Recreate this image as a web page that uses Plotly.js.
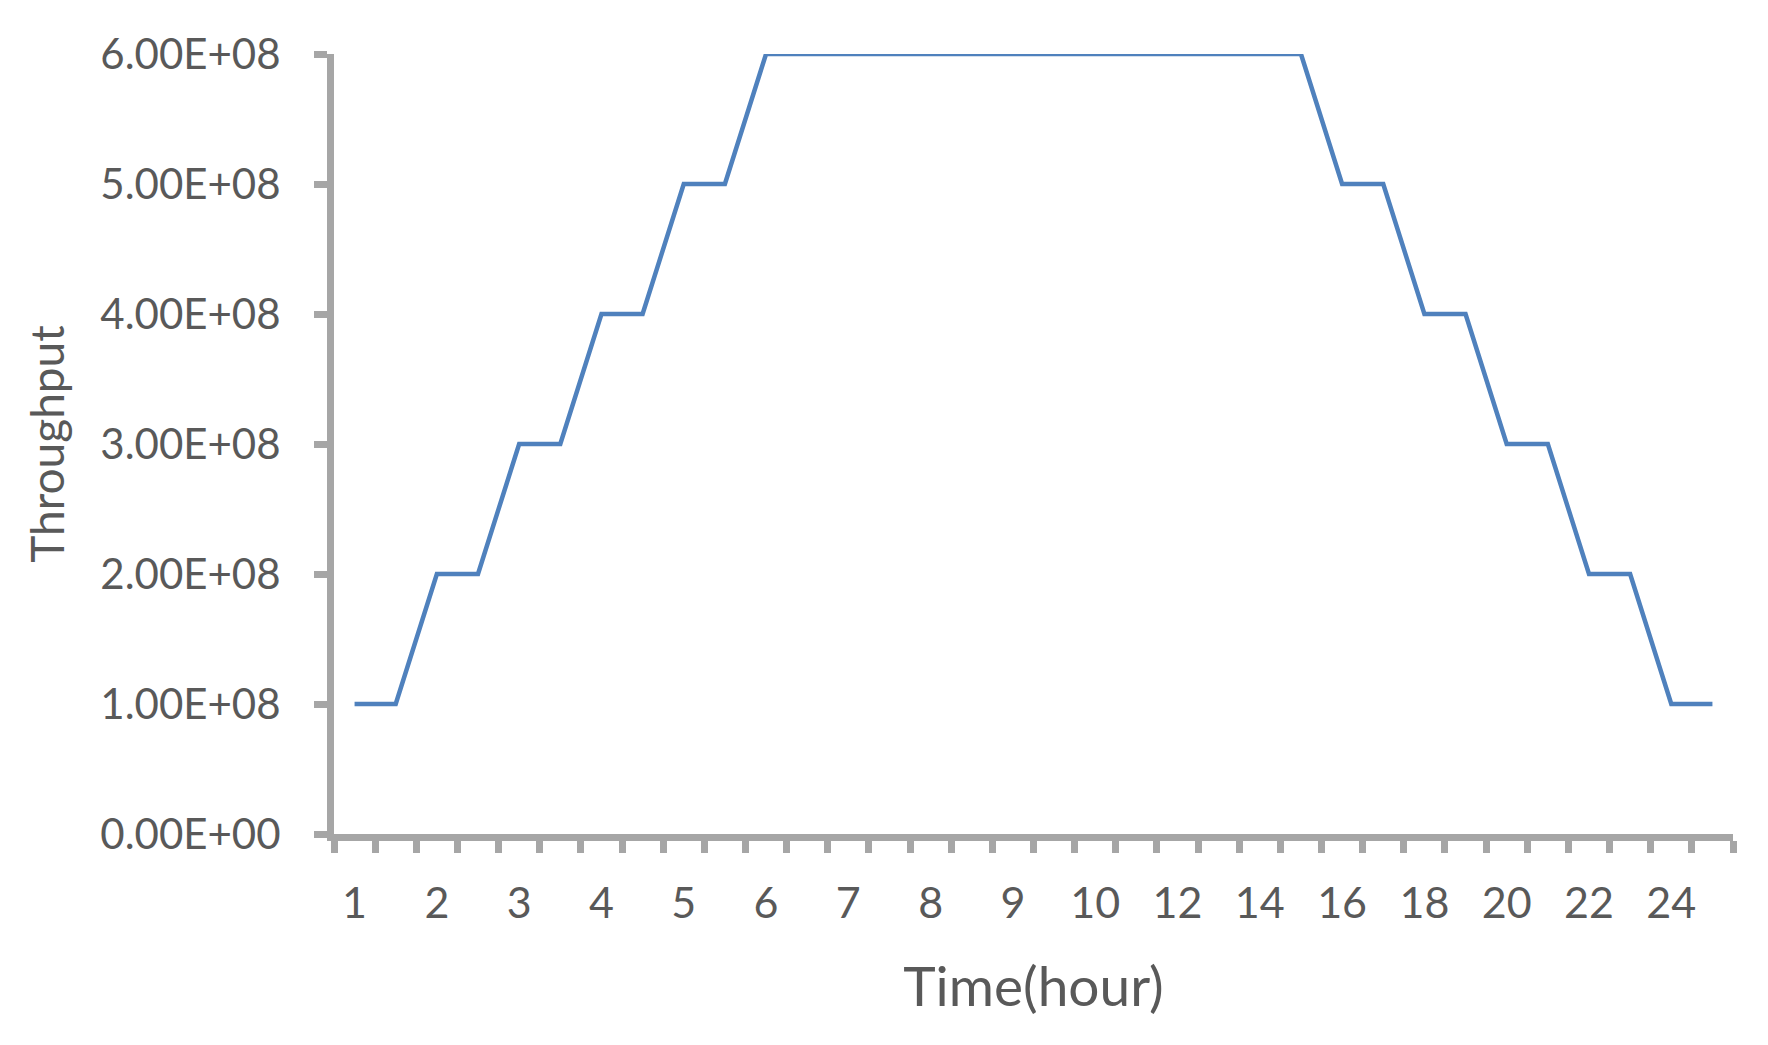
<!DOCTYPE html>
<html>
<head>
<meta charset="utf-8">
<script src="https://cdn.plot.ly/plotly-3.0.1.min.js"></script>
<style>html,body{margin:0;padding:0;background:#fff;}#chart{width:1768px;height:1045px;}</style>
</head>
<body>
<div id="chart"></div>
<script>
var categories = ['1','1.5','2','2.5','3','3.5','4','4.5','5','5.5','6','6.5','7','7.5','8','8.5','9','9.5','10','11','12','13','14','15','16','17','18','19','20','21','22','23','24','25'];
var throughput = [1e8,1e8,2e8,2e8,3e8,3e8,4e8,4e8,5e8,5e8,
  6e8,6e8,6e8,6e8,6e8,6e8,6e8,6e8,6e8,6e8,6e8,6e8,6e8,6e8,
  5e8,5e8,4e8,4e8,3e8,3e8,2e8,2e8,1e8,1e8];
var yTicks = [0,1e8,2e8,3e8,4e8,5e8,6e8];
var xTitle = 'Time(hour)';
var yTitle = 'Throughput';

function sci(v){
  if (v === 0) return '0.00E+00';
  var e = Math.floor(Math.log10(Math.abs(v)));
  var m = v / Math.pow(10, e);
  var es = (e < 10 ? '0' : '') + e;
  return m.toFixed(2) + 'E+' + es;
}

var idx = categories.map(function(c, i){ return i; });
var labelIdx = idx.filter(function(i){ return i % 2 === 0; });
var labelText = labelIdx.map(function(i){ return categories[i]; });
var boundaries = [];
for (var i = 0; i <= categories.length; i++) boundaries.push(i - 0.5);

var axisColor = '#a6a6a6';
var textColor = '#595959';
var fontFam = 'Lato, "Open Sans", sans-serif';

var trace = {
  x: idx,
  y: throughput,
  type: 'scatter',
  mode: 'lines',
  line: {color: '#4f81bd', width: 4.5},
  hoverinfo: 'skip'
};

var layout = {
  width: 1768,
  height: 1045,
  paper_bgcolor: '#ffffff',
  plot_bgcolor: '#ffffff',
  showlegend: false,
  margin: {l: 334, r: 35, t: 54, b: 211, pad: 0},
  font: {family: fontFam, color: textColor},
  xaxis: {
    range: [-0.5, categories.length - 0.5],
    tickmode: 'array',
    tickvals: labelIdx,
    ticktext: labelText,
    ticks: '',
    ticklabelstandoff: 25,
    tickfont: {family: fontFam, size: 43, color: textColor},
    showline: true,
    linecolor: axisColor,
    linewidth: 7,
    showgrid: false,
    zeroline: false,
    minor: {
      tickmode: 'array',
      tickvals: boundaries,
      ticks: 'outside',
      ticklen: 12,
      tickwidth: 7,
      tickcolor: axisColor,
      showgrid: false
    },
    title: {text: xTitle, font: {family: fontFam, size: 55, color: textColor}, standoff: 44}
  },
  yaxis: {
    range: [0, 6e8],
    tickmode: 'array',
    tickvals: yTicks,
    ticktext: yTicks.map(sci),
    ticks: 'outside',
    ticklen: 13,
    tickwidth: 7,
    tickcolor: axisColor,
    ticklabelstandoff: 25,
    tickfont: {family: fontFam, size: 42, color: textColor},
    showline: true,
    linecolor: axisColor,
    linewidth: 7,
    showgrid: false,
    zeroline: false,
    title: {text: yTitle, font: {family: fontFam, size: 46, color: textColor}, standoff: 24}
  }
};

Plotly.newPlot('chart', [trace], layout, {displayModeBar: false, staticPlot: true});
</script>
</body>
</html>
